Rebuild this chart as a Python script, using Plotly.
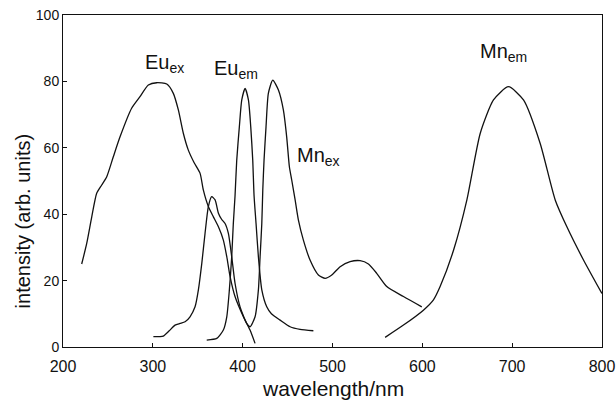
import plotly.graph_objects as go

# Eu excitation
eu_ex_x = [220.8, 226.4, 232, 237.5, 243.1, 248.7, 256, 263.5, 276.4, 285.7, 295, 304.3, 315.5,
           322.8, 328.4, 334, 339.5, 346, 352.6, 356.2, 361.8, 367.4, 373, 378.5, 382.3, 386,
           391.5, 400.8, 408.2, 413.8]
eu_ex_y = [25, 31.2, 39.2, 46.3, 48.8, 51.3, 57.3, 63.3, 71.9, 75.4, 78.9, 79.6, 79.2,
           76.4, 71.4, 64.3, 59.3, 55.5, 52.3, 47.3, 42.3, 39.2, 36.2, 32.2, 27.2, 21.2,
           15.2, 9.1, 5.1, 1.1]

# Eu emission
eu_em_x = [360, 371.2, 378.5, 382.3, 385.2, 387.8, 389.6, 391.5, 393.4, 396.3, 399, 402.7,
           406.4, 409, 411.2, 412.7, 414.9, 417.5, 421.3, 426.8, 432, 441.6, 452.8, 463.9, 478.7]
eu_em_y = [2.1, 2.6, 5.1, 9.1, 17.2, 27.2, 37.2, 45.5, 56.3, 66.3, 74.4, 77.9,
           74.4, 66.3, 56.3, 45.5, 37.2, 27.2, 17.2, 12.1, 10.0, 8.1, 6.1, 5.3, 4.9]

# Mn excitation
mn_ex_x = [300.6, 311.7, 318, 324.7, 330.3, 335.9, 341.4, 347, 350.7, 354.5, 358.1, 361.8,
           365.5, 369.3, 373, 376.7, 380.4, 384.1, 387.8, 391.5, 397.1, 404.5, 408.2, 413.8,
           417.5, 419.4, 421.3, 422.4, 423.8, 426, 428.6, 433.5, 439.8, 445.3, 449, 452,
           454.6, 458.4, 462, 467.6, 475, 484.3, 491.8, 499.2, 508.5, 519.6, 530.7, 540,
           549.2, 560.4, 579, 599.4]
mn_ex_y = [3.1, 3.3, 4.8, 6.6, 7.1, 7.6, 9.1, 12.1, 17.2, 25.2, 34.2, 42.3,
           45.3, 44.3, 40.3, 38.4, 37.2, 34.2, 27.2, 19.2, 12.1, 7.1, 6.1, 9.1,
           17.2, 27.2, 37.2, 47.3, 56.3, 66.3, 76.4, 80.4, 77.4, 71.4, 63.3, 54.3,
           50.3, 44.3, 38.3, 32.2, 26.2, 21.7, 20.7, 21.7, 24.2, 25.7, 26, 25,
           22.2, 18.2, 15.2, 12.1]

# Mn emission
mn_em_x = [558.6, 579, 601.2, 612.4, 619.8, 634.8, 649.6, 664.4, 679.2, 695.9, 712.6,
           731.2, 747.9, 760.9, 779.4, 799.9]
mn_em_y = [2.9, 6.6, 11.1, 14.2, 18.2, 29.2, 44.3, 64.3, 74.4, 78.4, 74.4,
           61.3, 44.3, 36.2, 26.2, 16.1]

label_text = ["Eu<sub>ex</sub>", "Eu<sub>em</sub>", "Mn<sub>ex</sub>", "Mn<sub>em</sub>"]
label_x = [289.5, 366, 458.5, 661.5]
label_y = [85.5, 83.5, 57.5, 88.8]

x_ticks = [200, 300, 400, 500, 600, 700, 800]
y_ticks = [0, 20, 40, 60, 80, 100]

FONT = "Liberation Sans, Arial, sans-serif"
fig = go.Figure()
for xs, ys in [(eu_ex_x, eu_ex_y), (eu_em_x, eu_em_y), (mn_ex_x, mn_ex_y), (mn_em_x, mn_em_y)]:
    fig.add_trace(go.Scatter(x=xs, y=ys, mode="lines",
                             line=dict(color="#111", width=1.3, shape="spline", smoothing=0.6),
                             showlegend=False, hoverinfo="skip"))

for t, lx, ly in zip(label_text, label_x, label_y):
    fig.add_annotation(x=lx, y=ly, text=t, showarrow=False, xanchor="left", yanchor="middle",
                       font=dict(family=FONT, size=20, color="#111"))

fig.add_annotation(x=0.501, y=-0.125, xref="paper", yref="paper", text="wavelength/nm",
                   showarrow=False, xanchor="center", yanchor="middle",
                   font=dict(family=FONT, size=21, color="#111"))
fig.add_annotation(x=-0.075, y=0.38, xref="paper", yref="paper", text="intensity (arb. units)",
                   showarrow=False, textangle=-90, xanchor="center", yanchor="middle",
                   font=dict(family=FONT, size=20, color="#111"))

fig.update_layout(
    width=616, height=403,
    margin=dict(l=63, r=14, t=15, b=56, autoexpand=False),
    paper_bgcolor="white", plot_bgcolor="white",
    font=dict(family=FONT, color="#111"),
)
fig.update_xaxes(range=[200, 800], tickvals=x_ticks, ticks="inside", ticklen=4,
                 tickcolor="#111", showline=True, linecolor="#111", linewidth=1, mirror=True,
                 showgrid=False, zeroline=False, automargin=False, ticklabelstandoff=5,
                 tickfont=dict(size=16, family=FONT, color="#111"))
fig.update_yaxes(range=[0, 100], tickvals=y_ticks, ticks="inside", ticklen=4,
                 tickcolor="#111", showline=True, linecolor="#111", linewidth=1, mirror=True,
                 showgrid=False, zeroline=False, automargin=False,
                 tickfont=dict(size=14, family=FONT, color="#111"))

fig.write_html("out.html")
